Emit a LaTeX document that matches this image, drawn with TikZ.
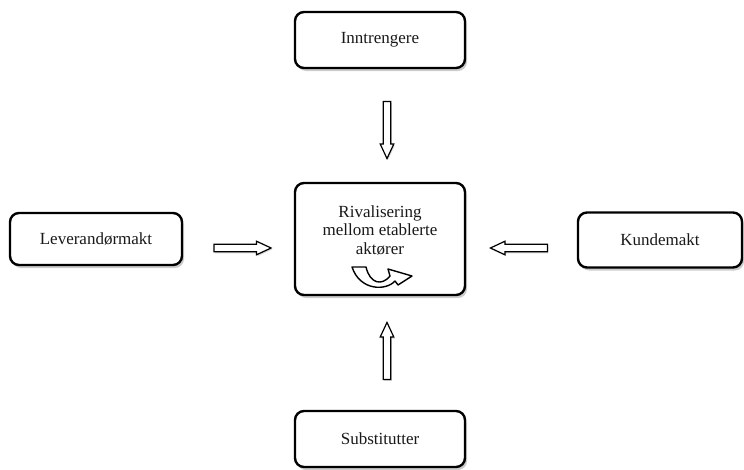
\documentclass[tikz,border=0pt]{standalone}
\usepackage{fontspec}
\setmainfont{Liberation Serif}
\usetikzlibrary{shapes.arrows,shadows}

\tikzset{
  skygge/.style={drop shadow={shadow xshift=2pt, shadow yshift=-3pt, opacity=0.4}},
  boks/.style={draw=black, line width=2.4pt, rounded corners=9pt, fill=white,
    minimum width=170pt, minimum height=56pt, text=black!90,
    font=\fontsize{17}{18.5}\selectfont, skygge},
  pil/.style={single arrow, draw=black, line width=1.2pt, fill=white,
    minimum height=57pt, inner xsep=0pt, inner ysep=3.2pt,
    single arrow head extend=3pt, single arrow tip angle=50,
    drop shadow={shadow xshift=1pt, shadow yshift=-1.5pt, opacity=0.3}}
}

\begin{document}
\begin{tikzpicture}[x=1pt, y=-1pt]
    \useasboundingbox (0,0) rectangle (744,469);
    % boksene
    \node[boks] (inn) at (380,40) {Inntrengere};
    \node[boks, minimum height=112pt] (riv) at (380,239) {};
    \node[boks, minimum width=172pt, minimum height=52pt] (lev) at (96,239) {Leverandørmakt};
    \node[boks, minimum width=164pt, minimum height=55pt] (kun) at (660,240) {Kundemakt};
    \node[boks] (sub) at (380,439) {Substitutter};
    \node[text=black!90, font=\fontsize{17}{18.5}\selectfont, align=center] (rivtekst) at (380,230) {Rivalisering\\mellom etablerte\\aktører};
    % pilene
    \node[pil, rotate=-90] (pilned) at (387,126) {};
    \node[pil] (pilhoyre) at (238.5,248) {};
    \node[pil, rotate=180] (pilvenstre) at (523,248) {};
    \node[pil, rotate=90] (pilopp) at (387,355) {};
    % sirkelpil
    \draw[line width=1.4pt, fill=white, line join=round]
        (352,267) -- (366,267)
        .. controls (370,284) and (382,286) .. (390,276)
        -- (388,269) -- (412,276) -- (398,285) -- (395,281)
        .. controls (386,291) and (360,291) .. cycle;
\end{tikzpicture}
\end{document}
